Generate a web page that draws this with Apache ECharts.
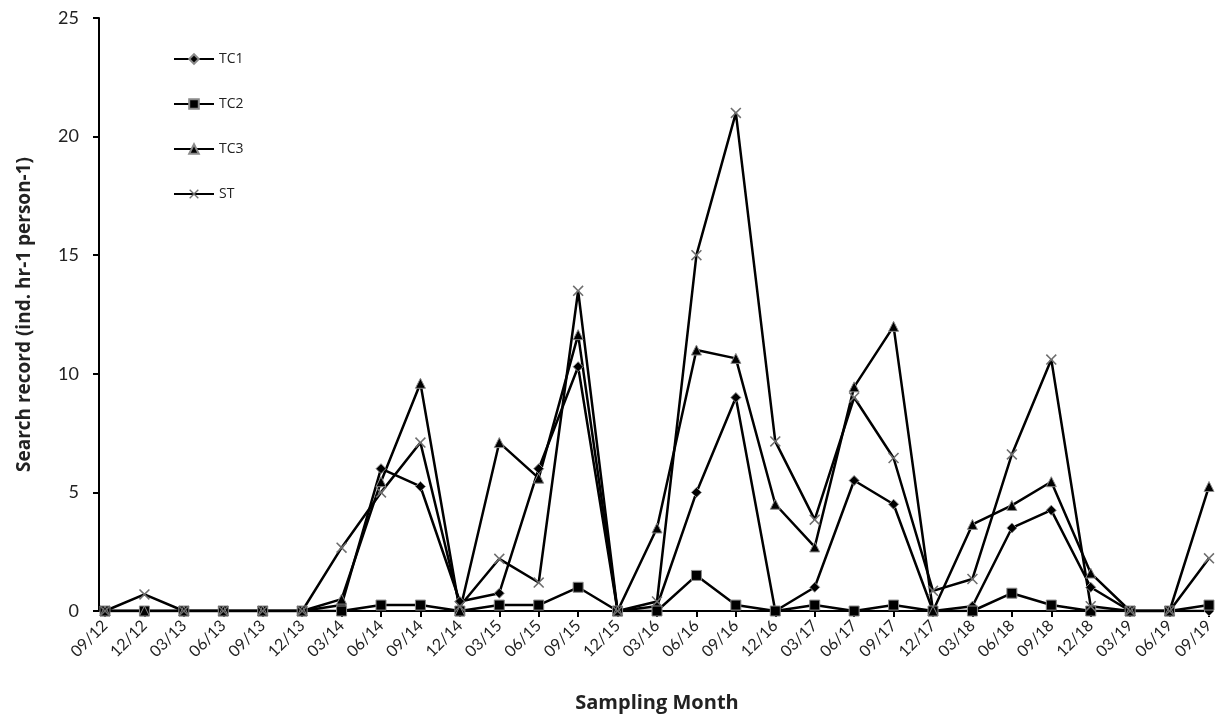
<!DOCTYPE html>
<html>
<head>
<meta charset="utf-8">
<script src="https://cdn.jsdelivr.net/npm/echarts@6/dist/echarts.min.js"></script>
<style>
html,body{margin:0;padding:0;background:#fff;overflow:hidden;}
#c{width:1221px;height:718px;}
</style>
</head>
<body>
<div id="c"></div>
<script>
var categories = ['09/12','12/12','03/13','06/13','09/13','12/13','03/14','06/14','09/14','12/14','03/15','06/15','09/15','12/15','03/16','06/16','09/16','12/16','03/17','06/17','09/17','12/17','03/18','06/18','09/18','12/18','03/19','06/19','09/19'];
var tc1 = [0,0,0,0,0,0,0.25,6.0,5.25,0.4,0.75,6.0,10.3,0,0.2,5.0,9.0,0,1.0,5.5,4.5,0,0.2,3.5,4.25,1.0,0,0,0];
var tc2 = [0,0,0,0,0,0,0,0.25,0.25,0,0.25,0.25,1.0,0,0,1.5,0.25,0,0.25,0,0.25,0,0,0.75,0.25,0,0,0,0.25];
var tc3 = [0,0,0,0,0,0,0.5,5.45,9.6,0,7.1,5.6,11.65,0,3.5,11.0,10.65,4.5,2.7,9.45,12.0,0,3.65,4.45,5.45,1.6,0,0,5.25];
var st  = [0,0.7,0,0,0,0,2.67,5.0,7.1,0.2,2.2,1.2,13.5,0,0.4,15.0,21.0,7.15,3.85,9.0,6.45,0.85,1.35,6.6,10.6,0.2,0,0,2.22];
var yTicks = {min:0, max:25, interval:5};

var crossPath = 'path://M0,1 L1,0 L5,4 L9,0 L10,1 L6,5 L10,9 L9,10 L5,6 L1,10 L0,9 L4,5 Z';
var font = 'Lato, "Open Sans", "Liberation Sans", sans-serif';
var tfont = '"Open Sans", "Liberation Sans", sans-serif';

function mk(name, data, symbol, size, fill){
  return {
    name: name, type: 'line', data: data, symbol: symbol, symbolSize: size,
    showSymbol: true, animation: false,
    lineStyle: {color: '#000', width: 2.5},
    itemStyle: {color: fill, borderColor: '#8a8a8a', borderWidth: 1}
  };
}

var chart = echarts.init(document.getElementById('c'));
chart.setOption({
  backgroundColor: '#fff',
  textStyle: {fontFamily: font},
  grid: {left: 105, right: 12, top: 18, bottom: 102, containLabel: false},
  legend: {
    orient: 'vertical', left: 168, top: 47, itemGap: 31, itemWidth: 40, itemHeight: 12,
    textStyle: {fontSize: 14, color: '#222', fontFamily: tfont},
    data: ['TC1','TC2','TC3','ST']
  },
  xAxis: {
    type: 'category', data: categories, boundaryGap: false,
    name: 'Sampling Month', nameLocation: 'middle', nameGap: 82,
    nameTextStyle: {fontSize: 20, fontWeight: 'bold', color: '#222', fontFamily: tfont},
    axisLine: {lineStyle: {color: '#000', width: 2}},
    axisTick: {show: true, length: 6, lineStyle: {color: '#000', width: 2}},
    axisLabel: {rotate: 45, fontSize: 16, color: '#222', margin: 12, fontFamily: font, interval: 0},
    splitLine: {show: false}
  },
  yAxis: {
    type: 'value', min: yTicks.min, max: yTicks.max, interval: yTicks.interval, offset: 6,
    name: 'Search record (ind. hr-1 person-1)', nameLocation: 'middle', nameGap: 65,
    nameTextStyle: {fontSize: 19, fontWeight: 'bold', color: '#222', fontFamily: tfont},
    axisLine: {show: true, lineStyle: {color: '#000', width: 2}},
    axisTick: {show: true, inside: false, length: 6, lineStyle: {color: '#000', width: 2}},
    axisLabel: {fontSize: 18, color: '#222', margin: 20, fontFamily: font},
    splitLine: {show: false}
  },
  series: [
    mk('TC1', tc1, 'diamond', 10, '#000'),
    mk('TC2', tc2, 'rect', 10, '#000'),
    mk('TC3', tc3, 'triangle', 10, '#000'),
    {
      name: 'ST', type: 'line', data: st, symbol: crossPath, symbolSize: 11, animation: false,
      lineStyle: {color: '#000', width: 2.5},
      itemStyle: {color: '#6e6e6e', borderColor: '#6e6e6e', borderWidth: 0}
    }
  ]
});
</script>
</body>
</html>
